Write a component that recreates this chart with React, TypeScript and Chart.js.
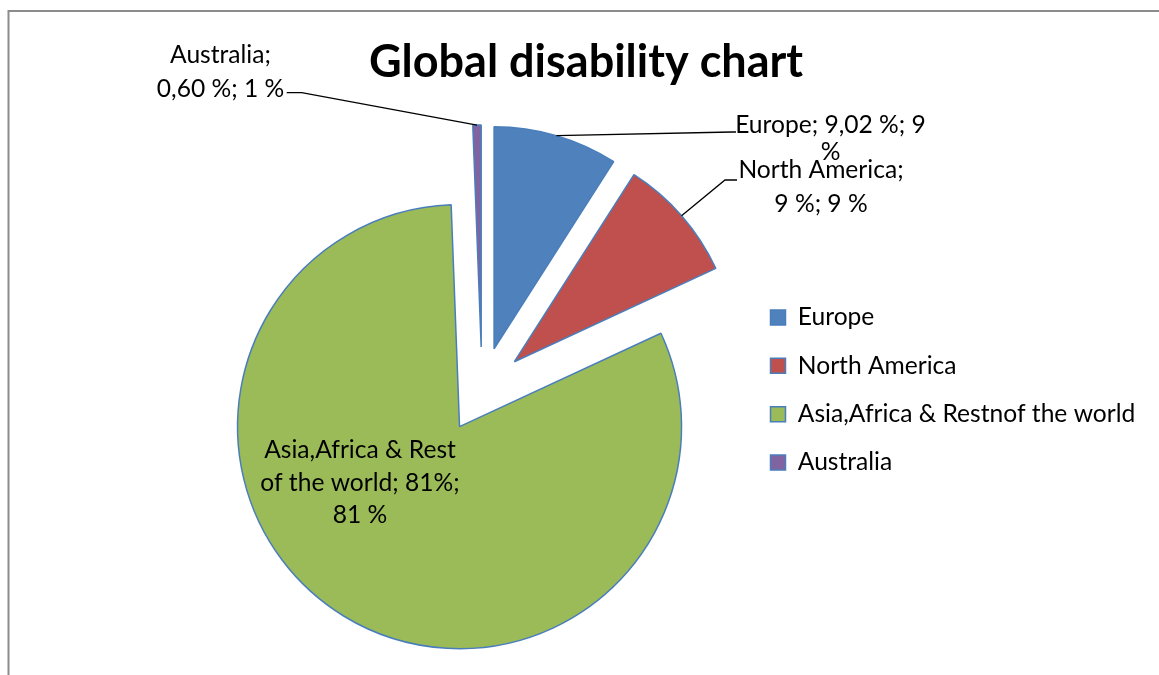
import React, { useEffect, useRef } from 'react';
import { Chart, registerables } from 'chart.js';

Chart.register(...registerables);

// ---------- data ----------
const TITLE = 'Global disability chart';
const CATEGORIES = ['Europe', 'North America', 'Asia,Africa & Restnof the world', 'Australia'];
const VALUES = [9.02, 9, 81, 0.6];
const COLORS = ['#4F81BD', '#C0504D', '#9BBB59', '#8064A2'];
const DATA_LABELS = [
  ['Europe; 9,02 %; 9', '%'],
  ['North America;', '9 %; 9 %'],
  ['Asia,Africa & Rest', 'of the world; 81%;', '81 %'],
  ['Australia;', '0,60 %; 1 %'],
];

// ---------- layout / style ----------
const W = 1159;
const H = 675;
const PIE_CX = 482;
const PIE_CY = 390;
const PIE_RADIUS = 222;
const EXPLODE = 43;
const FONT_FAMILY = 'Lato';
const LABEL_SIZE = 24.6;
const TITLE_SIZE = 45;
const LEGEND_BOX_LEFT = 770.5;
const LEGEND_PAD = 23.7;
const BOX = 15;
const BORDER_COLOR = '#4A7EBB';

// label text placement relative to pie centre (dx = text centre, dy = first baseline)
const LABEL_LAYOUT = [
  { dx: 348.5, dy: -257.3, gap: 27.3, leader: { dx: 254, dy: -258, elbow: -4 } },
  { dx: 339, dy: -211.7, gap: 33.4, leader: { dx: 255, dy: -210, elbow: -12 } },
  { dx: -122, dy: 68.3, gap: 32.5, leader: null },
  { dx: -261.5, dy: -326.7, gap: 33.4, leader: { dx: -195.3, dy: -297.3, elbow: 15 } },
];

function computePadding() {
  const m = document.createElement('canvas').getContext('2d') as CanvasRenderingContext2D;
  m.font = `${LABEL_SIZE}px ${FONT_FAMILY}`;
  const textW = Math.max(...CATEGORIES.map((c) => m.measureText(c).width));
  const legendW = LEGEND_PAD + BOX + LABEL_SIZE / 2 + textW + 10;
  const areaRight = LEGEND_BOX_LEFT - LEGEND_PAD;
  const left = 2 * PIE_CX - areaRight;
  const right = Math.max(0, W - areaRight - legendW);
  const top = 2 * PIE_CY - H;
  return { left, right, top, bottom: 0 };
}

// explode every slice outward along its mid-angle, keeping full angles and equal radii
const explodePlugin = {
  id: 'explode',
  afterDatasetsUpdate(chart: any) {
    const meta = chart.getDatasetMeta(0);
    meta.data.forEach((arc: any) => {
      const mid = (arc.startAngle + arc.endAngle) / 2;
      arc.x += Math.cos(mid) * EXPLODE;
      arc.y += Math.sin(mid) * EXPLODE;
    });
  },
};

const decorationsPlugin = {
  id: 'decorations',
  afterDatasetsDraw(chart: any) {
    const ctx: CanvasRenderingContext2D = chart.ctx;
    const meta = chart.getDatasetMeta(0);
    const area = chart.chartArea;
    const cx = (area.left + area.right) / 2;
    const cy = (area.top + area.bottom) / 2;
    ctx.save();
    ctx.font = `${LABEL_SIZE}px ${FONT_FAMILY}`;
    ctx.fillStyle = '#000';
    ctx.textAlign = 'center';
    ctx.textBaseline = 'alphabetic';
    DATA_LABELS.forEach((lines, i) => {
      const L = LABEL_LAYOUT[i];
      lines.forEach((t, j) => ctx.fillText(t, cx + L.dx, cy + L.dy + j * L.gap));
      if (L.leader) {
        const arc = meta.data[i];
        const mid = (arc.startAngle + arc.endAngle) / 2;
        const sx = arc.x + Math.cos(mid) * arc.outerRadius;
        const sy = arc.y + Math.sin(mid) * arc.outerRadius;
        const endX = cx + L.leader.dx;
        const endY = cy + L.leader.dy;
        ctx.beginPath();
        ctx.strokeStyle = '#000';
        ctx.lineWidth = 1.3;
        ctx.moveTo(sx, sy);
        ctx.lineTo(endX + L.leader.elbow, endY);
        ctx.lineTo(endX, endY);
        ctx.stroke();
      }
    });
    ctx.restore();
  },
  afterDraw(chart: any) {
    const ctx: CanvasRenderingContext2D = chart.ctx;
    ctx.save();
    // chart frame
    ctx.strokeStyle = '#8c8c8c';
    ctx.lineWidth = 2;
    ctx.beginPath();
    ctx.moveTo(8.5, H);
    ctx.lineTo(8.5, 11);
    ctx.lineTo(W, 11);
    ctx.stroke();
    // title
    ctx.font = `bold ${TITLE_SIZE}px ${FONT_FAMILY}`;
    ctx.fillStyle = '#000';
    ctx.textAlign = 'center';
    ctx.textBaseline = 'alphabetic';
    ctx.fillText(TITLE, 586, 77);
    ctx.restore();
  },
};

export default function App() {
  const ref = useRef<HTMLCanvasElement>(null);
  useEffect(() => {
    if (!ref.current) return;
    const padding = computePadding();
    const chart = new Chart(ref.current, {
      type: 'pie',
      data: {
        labels: CATEGORIES,
        datasets: [
          {
            data: VALUES,
            backgroundColor: COLORS,
            borderColor: BORDER_COLOR,
            borderWidth: 1.5,
            radius: PIE_RADIUS,
          } as any,
        ],
      },
      options: {
        responsive: false,
        animation: false,
        events: [],
        devicePixelRatio: 1,
        layout: { padding },
        plugins: {
          title: { display: false },
          tooltip: { enabled: false },
          legend: {
            position: 'right',
            align: 'center',
            labels: {
              boxWidth: BOX,
              boxHeight: BOX,
              padding: LEGEND_PAD,
              color: '#000',
              font: { family: FONT_FAMILY, size: LABEL_SIZE },
            },
          },
        },
      } as any,
      plugins: [explodePlugin, decorationsPlugin],
    });
    return () => chart.destroy();
  }, []);
  return (
    <div style={{ position: 'absolute', left: 0, top: 0, width: W, height: H, background: '#fff' }}>
      <canvas ref={ref} width={W} height={H} style={{ display: 'block', width: W, height: H }} />
    </div>
  );
}
